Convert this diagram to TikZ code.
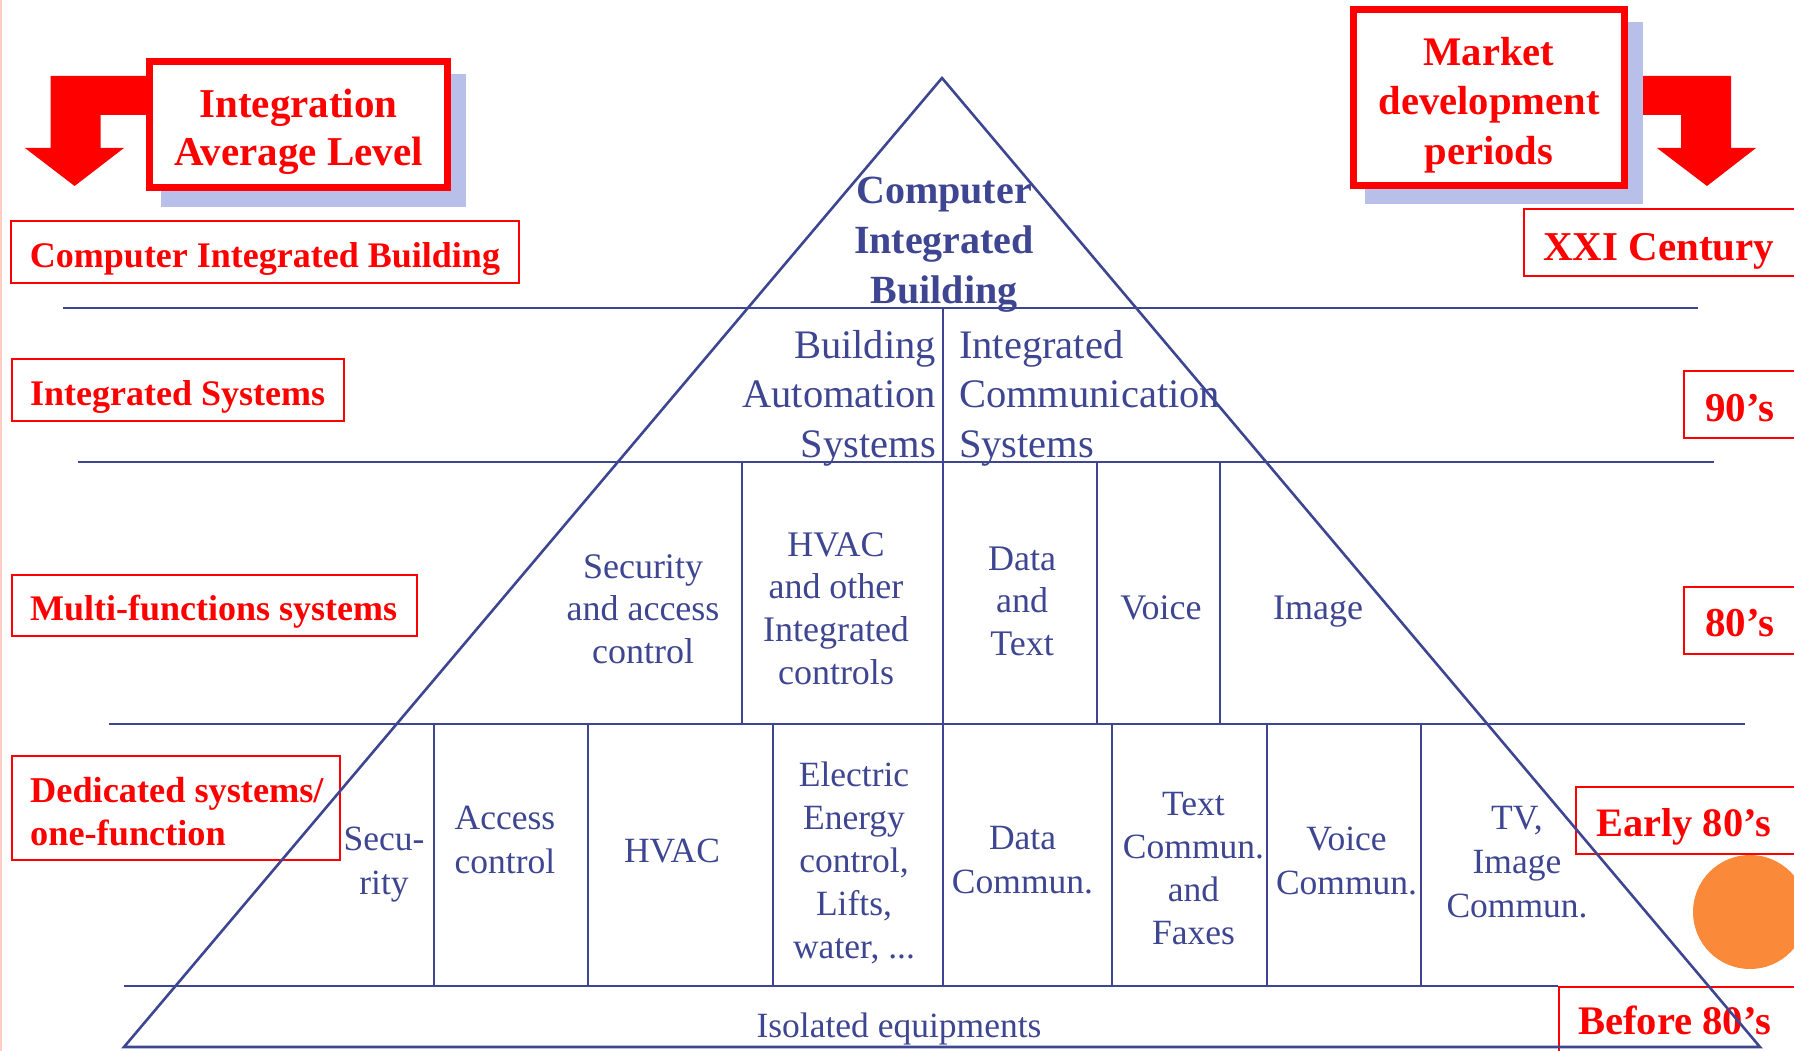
\documentclass[tikz,border=0pt]{standalone}
\usepackage{fontspec}
\setmainfont{Liberation Serif}
\definecolor{pyr}{RGB}{62,70,146}
\definecolor{shadowc}{RGB}{184,192,234}
\definecolor{orangec}{RGB}{250,138,58}
\definecolor{edgec}{RGB}{255,205,195}
\begin{document}
\begin{tikzpicture}[x=1pt,y=-1pt,
  pline/.style={draw=pyr,line width=2.6pt},
  redbox/.style={draw=red,line width=2.4pt},
  bigbox/.style={draw=red,line width=7.3pt,fill=white},
  shadowbox/.style={fill=shadowc},
  bigarrow/.style={fill=red},
  rlab/.style={text=red,inner sep=0pt,font=\bfseries\fontsize{36}{43}\selectfont},
  rlabL/.style={text=red,inner sep=0pt,font=\bfseries\fontsize{41}{49}\selectfont},
  blab/.style={text=pyr,inner sep=0pt,align=center},
  rowtwo/.style={blab,font=\fontsize{40.5}{49.5}\selectfont},
  rowthree/.style={blab,font=\fontsize{36}{42.7}\selectfont},
  rowfour/.style={blab,font=\fontsize{35.5}{44}\selectfont},
  rowfourb/.style={blab,font=\fontsize{35.5}{43}\selectfont}
]
\useasboundingbox (0,0) rectangle (1794,1051);
\clip (0,0) rectangle (1794,1051);
\fill[white] (0,0) rectangle (1794,1051);
\draw[edgec,line width=1.5pt] (1,0) -- (1,1051);

% orange dot
\fill[orangec] (1750,912) circle (57);

% arrows
\fill[bigarrow] (150,76) -- (50.5,76) -- (50.5,148) -- (25,148) -- (74.6,186) -- (124,148) -- (100.6,148) -- (100.6,115) -- (150,115) -- cycle;
\fill[bigarrow] (1635,76) -- (1731,76) -- (1731,148) -- (1756,148) -- (1707,186) -- (1657,148) -- (1681,148) -- (1681,115) -- (1635,115) -- cycle;

% shadows and big boxes
\fill[shadowbox] (161,74) rectangle (466,207);
\fill[shadowbox] (1365,22) rectangle (1643,204);
\draw[bigbox] (149.6,61.6) rectangle (447.4,187.4);
\draw[bigbox] (1353.6,9.6) rectangle (1624.4,185.4);
\node[rlabL,align=center,anchor=north,font=\bfseries\fontsize{41}{48}\selectfont] (intg) at (298.5,88.5) {Integration\\Average Level};
\node[rlabL,align=center,anchor=north,font=\bfseries\fontsize{40.6}{49.5}\selectfont] (mkt) at (1489,37) {Market\\development\\periods};

% left red labels
\draw[redbox] (11,221) rectangle (519,283);
\node[rlab,anchor=base] (cibl) at (265,267) {Computer Integrated Building};
\draw[redbox] (12,359) rectangle (344,421);
\node[rlab,anchor=base west] (isys) at (30,405) {Integrated Systems};
\draw[redbox] (12,575) rectangle (417,636);
\node[rlab,anchor=base west] (mfs) at (30,620) {Multi-functions systems};
\draw[redbox] (12,756) rectangle (340,860);
\node[rlab,align=left,anchor=north west,font=\bfseries\fontsize{36.3}{43}\selectfont] (ded) at (30,777) {Dedicated systems/\\one-function};

% right red labels
\draw[redbox] (1524,209) rectangle (1810,276);
\node[rlabL,anchor=base west] (xxi) at (1543,260) {XXI Century};
\draw[redbox] (1684,371) rectangle (1810,438);
\node[rlabL,anchor=base west] (n90) at (1705,421) {90’s};
\draw[redbox] (1684,587) rectangle (1810,654);
\node[rlabL,anchor=base west] (n80) at (1705,636) {80’s};
\draw[redbox] (1576,787) rectangle (1810,854);
\node[rlabL,anchor=base west,font=\bfseries\fontsize{40.4}{49}\selectfont] (e80) at (1596,836) {Early 80’s};
\draw[redbox] (1559,987) rectangle (1810,1070);
\node[rlabL,anchor=base west,font=\bfseries\fontsize{40.6}{49}\selectfont] (b80) at (1578,1034) {Before 80’s};

% pyramid
\coordinate (apex) at (942,78);
\coordinate (bl) at (124,1047);
\coordinate (br) at (1760,1047);
\draw[pline] (bl) -- (apex) -- (br) -- cycle;
\draw[pline] (63,308) -- (1698,308);
\draw[pline] (78,462) -- (1714,462);
\draw[pline] (109,724) -- (1745,724);
\draw[pline] (124,986) -- (1558,986);
\draw[pline] (943,308) -- (943,986);
\foreach \x in {742,1097,1220} \draw[pline] (\x,462) -- (\x,724);
\foreach \x in {434,588,773,1112,1267,1421} \draw[pline] (\x,724) -- (\x,986);

% pyramid texts
\node[blab,anchor=north,font=\bfseries\fontsize{40}{50}\selectfont] (cib) at (944,177) {Computer\\Integrated\\Building};
\node[rowtwo,align=right,anchor=north east] (bas) at (936,330) {Building\\Automation\\Systems};
\node[rowtwo,align=left,anchor=north west] (ics) at (959,330) {Integrated\\Communication\\Systems};

\node[rowthree,anchor=north] (sac) at (643,554) {Security\\and access\\control};
\node[rowthree,anchor=north] (hvo) at (836,532) {HVAC\\and other\\Integrated\\controls};
\node[rowthree,anchor=north] (dat) at (1022,546.5) {Data\\and\\Text};
\node[rowthree,anchor=base] (voice) at (1161,619) {Voice};
\node[rowthree,anchor=base] (image) at (1318,619) {Image};

\node[rowfour,anchor=north] (secu) at (384,827) {Secu-\\rity};
\node[rowfour,anchor=north] (acc) at (505,806) {Access\\control};
\node[rowfour,anchor=base] (hv) at (672,862) {HVAC};
\node[rowfourb,anchor=north] (elec) at (854,762) {Electric\\Energy\\control,\\Lifts,\\water, ...};
\node[rowfour,anchor=north] (dcom) at (1022.5,826.5) {Data\\Commun.};
\node[rowfourb,anchor=north] (tcom) at (1193.5,792) {Text\\Commun.\\and\\Faxes};
\node[rowfour,anchor=north] (vcom) at (1346.5,826.5) {Voice\\Commun.};
\node[rowfour,anchor=north] (tv) at (1517,806) {TV,\\Image\\Commun.};
\node[rowfour,anchor=base] (iso) at (899,1037) {Isolated equipments};
\end{tikzpicture}
\end{document}
